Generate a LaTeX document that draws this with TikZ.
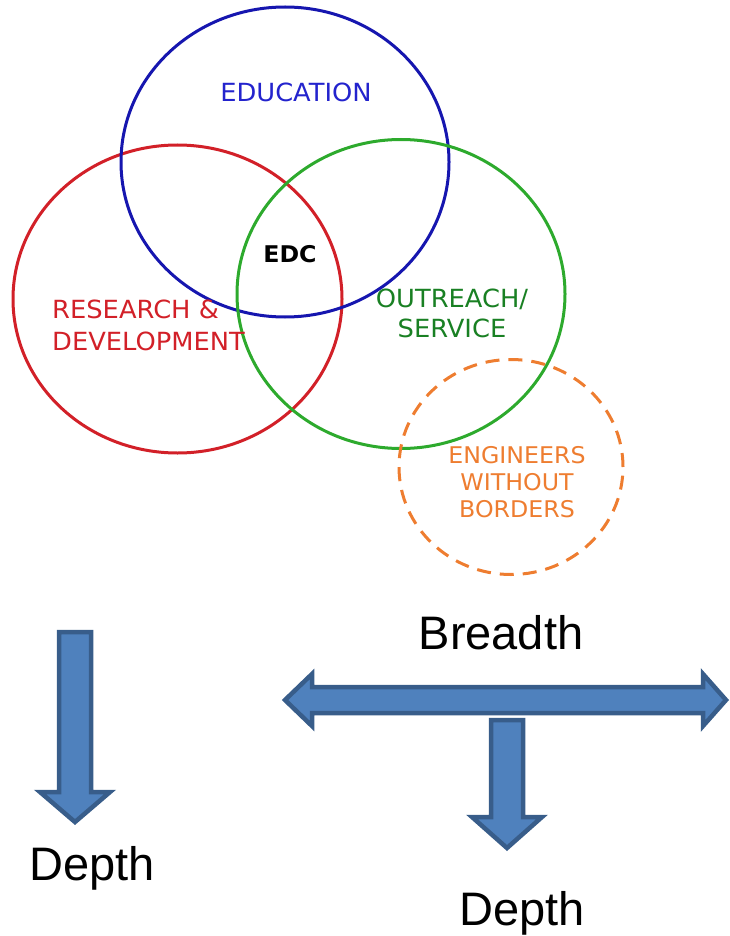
\documentclass[tikz,border=0pt]{standalone}
\usepackage{fontspec}
\setmainfont{Liberation Sans}
\newfontfamily\vennfont{DejaVu Sans}
\usetikzlibrary{shapes.geometric,positioning}
\definecolor{edublue}{RGB}{22,22,175}
\definecolor{edutext}{RGB}{35,35,205}
\definecolor{rdred}{RGB}{210,32,40}
\definecolor{outgreen}{RGB}{45,170,45}
\definecolor{outtext}{RGB}{25,128,35}
\definecolor{ewborange}{RGB}{238,125,48}
\definecolor{arrowfill}{RGB}{79,129,189}
\definecolor{arrowline}{RGB}{56,93,138}

\begin{document}
\begin{tikzpicture}[x=1pt,y=-1pt,
    area/.style={ellipse,draw,inner sep=0pt,line width=3pt},
    vennlabel/.style={font=\vennfont\fontsize{25}{32}\selectfont,inner sep=0pt,anchor=base,xscale=1.03},
    bigarrow/.style={fill=arrowfill,draw=arrowline,line width=4.5pt},
    axislabel/.style={font=\fontsize{47}{56}\selectfont,inner sep=0pt,anchor=base}]
    \useasboundingbox (0,0) rectangle (730,936);
       \node [area, draw=rdred, minimum width=329pt, minimum height=308pt] (rd) at (177.5,299) {};
       \node [area, draw=edublue, minimum width=328pt, minimum height=310pt] (edu) at (285,162) {};
       \node [area, draw=outgreen, minimum width=328pt, minimum height=309pt] (out) at (401,294) {};
       \node [area, draw=ewborange, dashed, dash pattern=on 14pt off 9pt, minimum width=224pt, minimum height=215pt] (ewb) at (511,467) {};
       \node [vennlabel, text=edutext] (edutext) at (296,102) {EDUCATION};
       \node [vennlabel, font=\vennfont\bfseries\fontsize{23}{28}\selectfont] (edc) at (290,262) {EDC};
       \node [vennlabel, text=rdred, align=left, anchor=base west] (rdtext) at (52,350) {RESEARCH \&\\DEVELOPMENT};
       \node [vennlabel, text=outtext, align=center, font=\vennfont\fontsize{25}{30}\selectfont] (outtext) at (452,337) {OUTREACH/\\SERVICE};
       \node [vennlabel, text=ewborange, align=center, font=\vennfont\fontsize{23}{27}\selectfont, xscale=1] (ewbtext) at (517,517) {ENGINEERS\\WITHOUT\\BORDERS};
       \draw [bigarrow] (59,632) -- (91,632) -- (91,792) -- (110,792) -- (75,822) -- (40,792) -- (59,792) -- cycle;
       \draw [bigarrow] (285,700) -- (312,674) -- (312,687) -- (703,687) -- (703,674) -- (726,700)
              -- (703,726) -- (703,713) -- (312,713) -- (312,726) -- cycle;
       \draw [bigarrow] (491,720) -- (523,720) -- (523,817) -- (542,817) -- (507,848) -- (472,817) -- (491,817) -- cycle;
       \node [axislabel] (breadth) at (501,649) {Breadth};
       \node [axislabel] (depthl) at (92,880) {Depth};
       \node [axislabel] (depthr) at (522,925) {Depth};
    \end{tikzpicture}
\end{document}
